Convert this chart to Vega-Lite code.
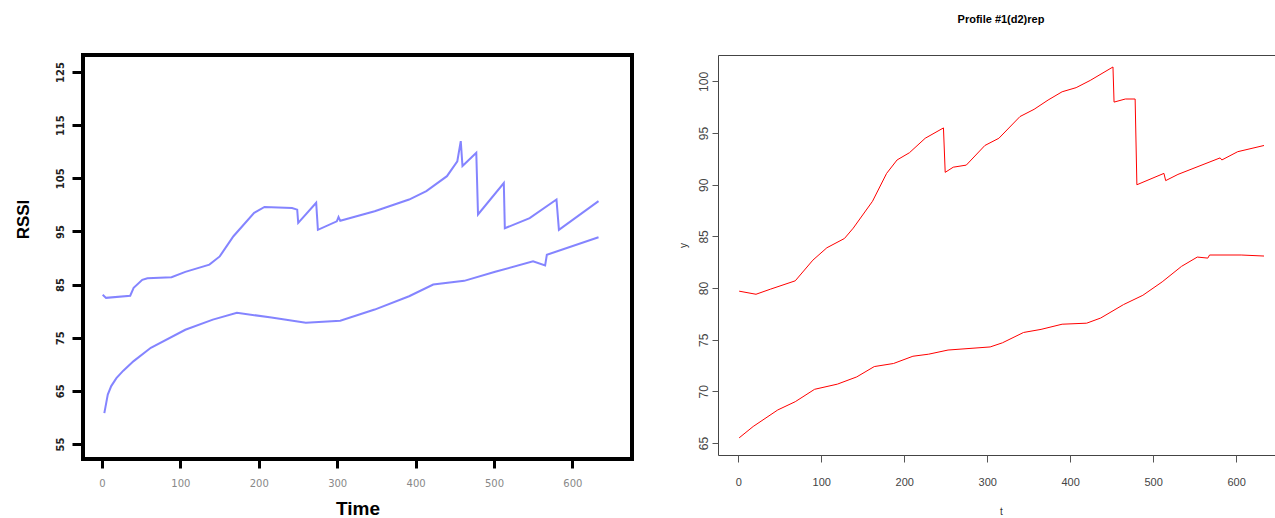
{
  "$schema": "https://vega.github.io/schema/vega-lite/v6.json",
  "background": "white",
  "padding": {"left": 12, "top": 13, "right": 0, "bottom": 0},
  "bounds": "flush",
  "spacing": 86,
  "config": {"axis": {"grid": false}, "title": {"color": "black"}},
  "datasets": {
    "left": [
      {"x": 0.9, "y": 83.1, "s": "a"}, {"x": 5.2, "y": 82.5, "s": "a"}, {"x": 36, "y": 82.9, "s": "a"}, {"x": 40.4, "y": 84.4, "s": "a"},
      {"x": 51.4, "y": 85.9, "s": "a"}, {"x": 58, "y": 86.2, "s": "a"}, {"x": 88.7, "y": 86.4, "s": "a"}, {"x": 106.3, "y": 87.4, "s": "a"},
      {"x": 137, "y": 88.75, "s": "a"}, {"x": 150.2, "y": 90.3, "s": "a"}, {"x": 167.7, "y": 94.1, "s": "a"}, {"x": 194.1, "y": 98.5, "s": "a"},
      {"x": 207.3, "y": 99.6, "s": "a"}, {"x": 242.4, "y": 99.4, "s": "a"}, {"x": 249, "y": 99.1, "s": "a"}, {"x": 250.3, "y": 96.6, "s": "a"},
      {"x": 273.2, "y": 100.4, "s": "a"}, {"x": 275.4, "y": 95.3, "s": "a"}, {"x": 299.5, "y": 96.9, "s": "a"}, {"x": 301.7, "y": 97.7, "s": "a"},
      {"x": 303.9, "y": 97.0, "s": "a"}, {"x": 347.8, "y": 98.8, "s": "a"}, {"x": 391.7, "y": 101.0, "s": "a"}, {"x": 413.7, "y": 102.6, "s": "a"},
      {"x": 440, "y": 105.4, "s": "a"}, {"x": 453.2, "y": 108.2, "s": "a"}, {"x": 457.6, "y": 112.0, "s": "a"}, {"x": 459.8, "y": 107.3, "s": "a"},
      {"x": 477.4, "y": 109.8, "s": "a"}, {"x": 479.6, "y": 98.2, "s": "a"}, {"x": 512.5, "y": 104.1, "s": "a"}, {"x": 513.8, "y": 95.6, "s": "a"},
      {"x": 545.5, "y": 97.5, "s": "a"}, {"x": 579.7, "y": 101.0, "s": "a"}, {"x": 582.8, "y": 95.3, "s": "a"}, {"x": 633.3, "y": 100.7, "s": "a"},
      {"x": 3.0, "y": 60.8, "s": "b"}, {"x": 7.4, "y": 64.3, "s": "b"}, {"x": 11.8, "y": 65.9, "s": "b"}, {"x": 18.4, "y": 67.4, "s": "b"},
      {"x": 27.2, "y": 68.8, "s": "b"}, {"x": 40.4, "y": 70.6, "s": "b"}, {"x": 62.3, "y": 73.1, "s": "b"}, {"x": 106.3, "y": 76.5, "s": "b"},
      {"x": 141.4, "y": 78.4, "s": "b"}, {"x": 172.1, "y": 79.7, "s": "b"}, {"x": 216.1, "y": 78.8, "s": "b"}, {"x": 260, "y": 77.8, "s": "b"},
      {"x": 303.9, "y": 78.2, "s": "b"}, {"x": 347.8, "y": 80.3, "s": "b"}, {"x": 391.7, "y": 82.8, "s": "b"}, {"x": 422.5, "y": 85.0, "s": "b"},
      {"x": 462, "y": 85.7, "s": "b"}, {"x": 501.5, "y": 87.4, "s": "b"}, {"x": 549.8, "y": 89.4, "s": "b"}, {"x": 565.2, "y": 88.6, "s": "b"},
      {"x": 567.4, "y": 90.6, "s": "b"}, {"x": 633.3, "y": 93.9, "s": "b"}
    ],
    "right": [
      {"x": 1.1, "y": 79.7, "s": "a"}, {"x": 21.4, "y": 79.4, "s": "a"}, {"x": 39.1, "y": 79.9, "s": "a"}, {"x": 68.7, "y": 80.7, "s": "a"},
      {"x": 89.9, "y": 82.7, "s": "a"}, {"x": 106.8, "y": 83.9, "s": "a"}, {"x": 128, "y": 84.8, "s": "a"}, {"x": 138.6, "y": 85.8, "s": "a"},
      {"x": 161.8, "y": 88.4, "s": "a"}, {"x": 178.8, "y": 91.1, "s": "a"}, {"x": 191.4, "y": 92.4, "s": "a"}, {"x": 206.3, "y": 93.1, "s": "a"},
      {"x": 225.3, "y": 94.5, "s": "a"}, {"x": 247.3, "y": 95.5, "s": "a"}, {"x": 249.4, "y": 91.2, "s": "a"}, {"x": 259.1, "y": 91.7, "s": "a"},
      {"x": 274.8, "y": 91.9, "s": "a"}, {"x": 297.2, "y": 93.8, "s": "a"}, {"x": 314.1, "y": 94.5, "s": "a"}, {"x": 339.5, "y": 96.6, "s": "a"},
      {"x": 356.5, "y": 97.3, "s": "a"}, {"x": 373.4, "y": 98.2, "s": "a"}, {"x": 390.3, "y": 99.0, "s": "a"}, {"x": 407.2, "y": 99.4, "s": "a"},
      {"x": 424.2, "y": 100.1, "s": "a"}, {"x": 451.6, "y": 101.4, "s": "a"}, {"x": 452.9, "y": 98.0, "s": "a"}, {"x": 466.5, "y": 98.3, "s": "a"},
      {"x": 478.3, "y": 98.3, "s": "a"}, {"x": 480.4, "y": 90.0, "s": "a"}, {"x": 513, "y": 91.1, "s": "a"}, {"x": 515.1, "y": 90.4, "s": "a"},
      {"x": 529.9, "y": 91.0, "s": "a"}, {"x": 580.7, "y": 92.6, "s": "a"}, {"x": 582.8, "y": 92.4, "s": "a"}, {"x": 601.9, "y": 93.2, "s": "a"},
      {"x": 633.6, "y": 93.8, "s": "a"},
      {"x": 1.1, "y": 65.5, "s": "b"}, {"x": 18, "y": 66.6, "s": "b"}, {"x": 47.6, "y": 68.2, "s": "b"}, {"x": 68.7, "y": 69.0, "s": "b"},
      {"x": 92, "y": 70.2, "s": "b"}, {"x": 119.5, "y": 70.7, "s": "b"}, {"x": 142.8, "y": 71.4, "s": "b"}, {"x": 163.9, "y": 72.4, "s": "b"},
      {"x": 187.2, "y": 72.7, "s": "b"}, {"x": 210.5, "y": 73.4, "s": "b"}, {"x": 229.5, "y": 73.6, "s": "b"}, {"x": 252.8, "y": 74.0, "s": "b"},
      {"x": 303.6, "y": 74.3, "s": "b"}, {"x": 318.4, "y": 74.7, "s": "b"}, {"x": 343.8, "y": 75.7, "s": "b"}, {"x": 364.9, "y": 76.0, "s": "b"},
      {"x": 390.3, "y": 76.5, "s": "b"}, {"x": 419.9, "y": 76.6, "s": "b"}, {"x": 436.8, "y": 77.1, "s": "b"}, {"x": 464.3, "y": 78.4, "s": "b"},
      {"x": 487.6, "y": 79.3, "s": "b"}, {"x": 510.9, "y": 80.6, "s": "b"}, {"x": 534.2, "y": 82.1, "s": "b"}, {"x": 553.2, "y": 83.0, "s": "b"},
      {"x": 565.9, "y": 82.9, "s": "b"}, {"x": 568, "y": 83.2, "s": "b"}, {"x": 606.1, "y": 83.2, "s": "b"}, {"x": 633.6, "y": 83.1, "s": "b"}
    ]
  },
  "hconcat": [
    {
      "width": 549,
      "height": 404,
      "view": {"stroke": "black", "strokeWidth": 4},
      "data": {"name": "left"},
      "mark": {"type": "line", "color": "#6f6fff", "strokeWidth": 2, "opacity": 0.85},
      "encoding": {
        "x": {
          "field": "x", "type": "quantitative",
          "scale": {"domain": [-24.2, 676], "nice": false, "zero": false},
          "axis": {
            "values": [0, 100, 200, 300, 400, 500, 600], "domain": false, "grid": false,
            "tickSize": 9, "tickWidth": 3, "tickColor": "black",
            "labelFont": "DejaVu Sans", "labelFontSize": 10, "labelColor": "#888", "labelPadding": 10, "labelBaseline": "top", "labelFlush": false,
            "title": "Time", "titleFont": "Liberation Sans", "titleFontSize": 19, "titleFontWeight": "bold", "titleColor": "black",
            "titleY": 49, "titleBaseline": "middle"
          }
        },
        "y": {
          "field": "y", "type": "quantitative",
          "scale": {"domain": [52.18, 128.2], "nice": false, "zero": false},
          "axis": {
            "values": [55, 65, 75, 85, 95, 105, 115, 125], "domain": false, "grid": false,
            "tickSize": 11, "tickWidth": 3, "tickColor": "black",
            "labelAngle": 270, "labelAlign": "center", "labelBaseline": "bottom", "labelPadding": 7,
            "labelFont": "DejaVu Sans", "labelFontSize": 10, "labelFontWeight": "bold", "labelColor": "#222", "labelFlush": false,
            "title": "RSSI", "titleFont": "Liberation Sans", "titleFontSize": 17, "titleFontWeight": "bold", "titleColor": "black",
            "titleAngle": 270, "titleX": -55, "titleY": 164, "titleBaseline": "alphabetic", "titleAlign": "center"
          }
        },
        "detail": {"field": "s"}
      }
    },
    {
      "width": 566,
      "height": 400,
      "title": {"text": "Profile #1(d2)rep", "font": "Liberation Sans", "fontSize": 11, "fontWeight": "bold", "offset": 21, "baseline": "alphabetic", "anchor": "middle", "color": "black"},
      "view": {"stroke": "#444", "strokeWidth": 1},
      "data": {"name": "right"},
      "mark": {"type": "line", "color": "#ff0000", "strokeWidth": 1},
      "encoding": {
        "x": {
          "field": "x", "type": "quantitative",
          "scale": {"domain": [-24.4, 657.7], "nice": false, "zero": false},
          "axis": {
            "values": [0, 100, 200, 300, 400, 500, 600], "domain": false, "grid": false,
            "tickSize": 7, "tickColor": "#555",
            "labelFont": "Liberation Sans", "labelFontSize": 11, "labelColor": "#444", "labelPadding": 14, "labelBaseline": "top", "labelFlush": false,
            "title": "t", "titleFont": "Liberation Sans", "titleFontSize": 10, "titleFontWeight": "normal", "titleColor": "#333",
            "titleY": 56, "titleBaseline": "middle"
          }
        },
        "y": {
          "field": "y", "type": "quantitative",
          "scale": {"domain": [63.84, 102.56], "nice": false, "zero": false},
          "axis": {
            "values": [65, 70, 75, 80, 85, 90, 95, 100], "domain": false, "grid": false,
            "tickSize": 6, "tickColor": "#555",
            "labelAngle": 270, "labelAlign": "center", "labelBaseline": "bottom", "labelPadding": 2,
            "labelFont": "Liberation Sans", "labelFontSize": 12, "labelColor": "#444", "labelFlush": false,
            "title": "y", "titleFont": "Liberation Sans", "titleFontSize": 10, "titleFontWeight": "normal", "titleColor": "#333",
            "titleAngle": 270, "titleX": -30, "titleY": 190, "titleBaseline": "bottom", "titleAlign": "center"
          }
        },
        "detail": {"field": "s"}
      }
    }
  ]
}
